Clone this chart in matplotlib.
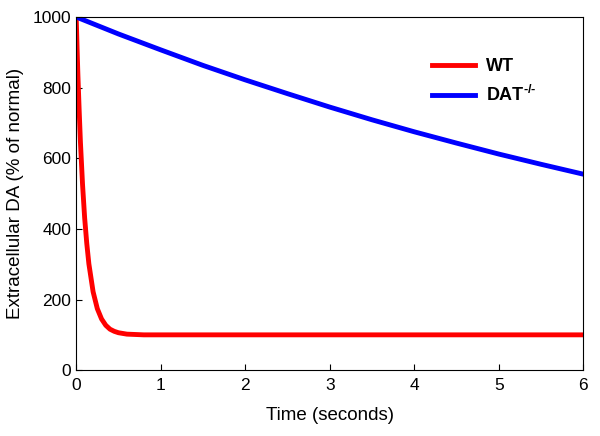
import matplotlib
matplotlib.use("Agg")
import matplotlib.pyplot as plt

plt.rcParams['font.family'] = ['Liberation Sans', 'DejaVu Sans']
plt.rcParams['mathtext.fontset'] = 'custom'
plt.rcParams['mathtext.rm'] = 'Liberation Sans:bold'
plt.rcParams['mathtext.bf'] = 'Liberation Sans:bold'

# WT: fast clearance down to basal level
t_wt = [0, 0.01, 0.02, 0.035, 0.05, 0.075, 0.1, 0.125, 0.15, 0.2, 0.25, 0.3,
        0.35, 0.4, 0.45, 0.5, 0.6, 0.7, 0.8, 1, 2, 3, 4, 5, 6]
da_wt = [1000, 915, 837, 737, 646, 526, 431, 359, 301, 222, 174, 145,
         127, 116, 110, 106, 102, 101, 100, 100, 100, 100, 100, 100, 100]

# DAT-/-: slow decay
t_ko = [0, 0.5, 1, 1.5, 2, 2.5, 3, 3.5, 4, 4.5, 5, 5.5, 6]
da_ko = [1000, 952, 907, 863, 822, 783, 745, 709, 675, 643, 612, 583, 555]

fig = plt.figure(figsize=(6, 4.36), dpi=100)
ax = fig.add_axes([0.127, 0.151, 0.845, 0.810])

ax.plot(t_wt, da_wt, color='#ff0000', lw=3.5, label='WT')
ax.plot(t_ko, da_ko, color='#0000ff', lw=3.5, label=r'DAT$^{\text{-/-}}$')

ax.set_xlim(0, 6)
ax.set_ylim(0, 1000)
ax.set_xticks(range(0, 7))
ax.set_yticks(range(0, 1001, 200))
ax.tick_params(direction='in', length=4, labelsize=12.5, top=False, right=False)
ax.tick_params(axis='x', pad=6)
ax.set_xlabel('Time (seconds)', fontsize=13.5, labelpad=10)
ax.set_ylabel('Extracellular DA (% of normal)', fontsize=13.5, labelpad=6)

leg = ax.legend(loc='upper right', bbox_to_anchor=(0.94, 0.93), frameon=False,
                prop={'weight': 'bold', 'size': 13}, handlelength=2.4,
                labelspacing=0.55, handletextpad=0.6)

fig.savefig('out.png', dpi=100)
